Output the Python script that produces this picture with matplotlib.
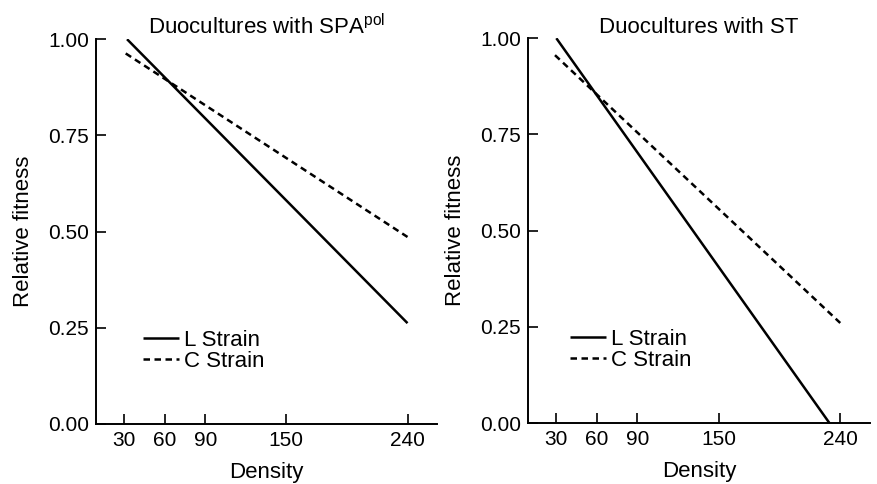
import matplotlib
matplotlib.use("Agg")
import matplotlib.pyplot as plt

plt.rcParams['font.family'] = ['Liberation Sans', 'DejaVu Sans']
plt.rcParams['mathtext.fontset'] = 'custom'
plt.rcParams['mathtext.rm'] = 'Liberation Sans'
plt.rcParams['mathtext.it'] = 'Liberation Sans:italic'

# Data
density_ticks = [30, 60, 90, 150, 240]
y_ticks = [0.00, 0.25, 0.50, 0.75, 1.00]
y_ticklabels = ["0.00", "0.25", "0.50", "0.75", "1.00"]

spa_l_density = [32, 240]
spa_l_fitness = [1.00, 0.262]
spa_c_density = [31, 240]
spa_c_fitness = [0.963, 0.486]

st_l_density = [30, 232]
st_l_fitness = [1.00, 0.00]
st_c_density = [29, 240]
st_c_fitness = [0.956, 0.26]

titles = ["Duocultures with SPA$^{\\mathrm{pol}}$", "Duocultures with ST"]

fig = plt.figure(figsize=(8.77, 4.84), dpi=100)
ax1 = fig.add_axes([0.1095, 0.124, 0.389, 0.795])
ax2 = fig.add_axes([0.602, 0.126, 0.390, 0.795])

panels = [
    (ax1, spa_l_density, spa_l_fitness, spa_c_density, spa_c_fitness, 0.138),
    (ax2, st_l_density, st_l_fitness, st_c_density, st_c_fitness, 0.123),
]

for i, (ax, ld, lf, cd, cf, legx) in enumerate(panels):
    ax.plot(ld, lf, color='black', lw=1.8, solid_capstyle='butt', label='L Strain')
    ax.plot(cd, cf, color='black', lw=1.8, linestyle=(0, (2.6, 1.8)), label='C Strain')
    ax.set_xlim(9, 262)
    ax.set_ylim(0, 1.0)
    ax.set_xticks(density_ticks)
    ax.set_xticklabels([str(t) for t in density_ticks])
    ax.set_yticks(y_ticks)
    ax.set_yticklabels(y_ticklabels)
    for s in ['top', 'right']:
        ax.spines[s].set_visible(False)
    for s in ['left', 'bottom']:
        ax.spines[s].set_linewidth(1.4)
    ax.tick_params(direction='in', length=7, width=1.2, labelsize=15, pad=5)
    ax.set_xlabel("Density", fontsize=16, labelpad=9)
    ax.set_ylabel("Relative fitness", fontsize=16, labelpad=10)
    ax.set_title(titles[i], fontsize=16, pad=2)
    ax.legend(loc='center left', bbox_to_anchor=(legx, 0.19), frameon=False,
              fontsize=16, handlelength=1.6, handletextpad=0.25, labelspacing=0.0,
              borderpad=0, borderaxespad=0)

fig.savefig("out.png", dpi=100)
